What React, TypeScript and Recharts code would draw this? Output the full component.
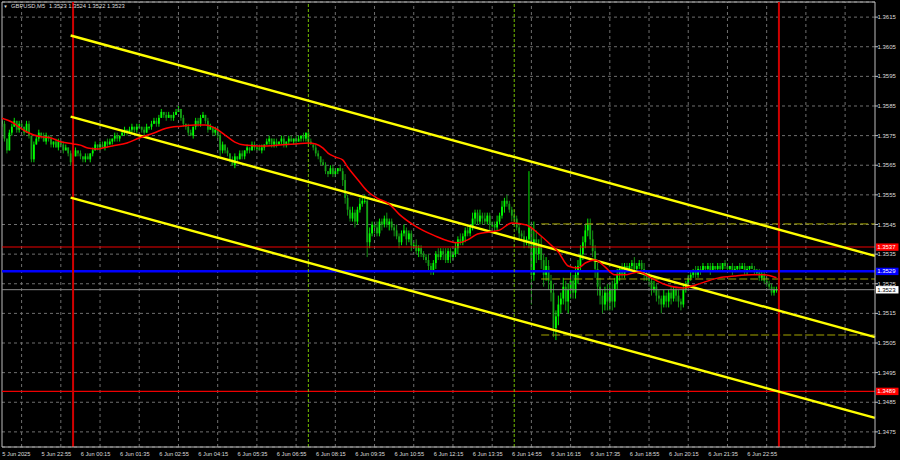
import React from 'react';
import { ComposedChart, Bar, Line, XAxis, YAxis, CartesianGrid, ReferenceLine } from 'recharts';

// ---------- data (prices in pips above 1.3500) ----------
const BASE = 1.35;
const PIP = 0.0001;
const FIRST_OPEN = 80;

const closes = [
  79,74,70,76,78,80,77,79,78,76,79,75,67,72,74,76,75,73,75,74,
  72,73,71,73,72,70,71,69,66,68,70,69,68,67,68,67,69,70,72,71,
  72,71,73,72,73,74,75,74,75,76,77,76,77,78,77,78,78,77,76,78,
  78,79,80,79,81,83,82,81,82,81,82,83,84,81,79,78,76,75,78,80,
  79,81,82,80,77,78,76,77,75,70,72,70,69,67,65,68,67,69,68,70,
  71,70,72,71,71,70,71,72,73,74,72,73,72,73,74,72,73,74,73,74,
  73,74,75,74,76,73,72,71,69,68,66,65,63,62,64,62,63,64,63,60,
  54,50,47,49,46,50,52,53,53,39,42,45,44,42,46,45,47,45,46,44,
  43,41,39,42,43,40,42,38,38,36,37,35,34,33,31,29,32,35,34,36,
  35,33,36,34,35,37,40,39,41,43,42,44,47,49,46,48,47,46,48,45,
  45,44,46,48,51,53,52,50,48,47,44,42,41,39,40,44,28,40,35,38,
  33,28,31,26,22,10,14,18,20,24,19,23,26,22,28,31,35,39,43,45,
  40,36,30,24,21,18,22,19,23,19,25,28,30,28,31,30,31,32,30,31,
  32,30,28,27,26,23,24,21,20,18,21,19,22,20,23,21,19,18,23,25,
  27,28,29,28,30,29,31,30,31,29,31,30,31,30,32,31,30,31,29,30,
  31,30,31,29,30,31,30,29,29,27,28,26,25,24,22,23,23,
];

const upperWicks = [
  1,1,0,1,1,1,0,1,1,0,1,1,0,1,1,1,0,1,1,0,
  1,0,1,1,0,1,1,0,1,1,1,0,1,0,1,1,0,1,1,0,
  1,1,0,1,1,0,1,1,0,1,1,0,1,1,0,1,1,0,1,1,
  0,1,1,1,1,1,0,1,1,0,1,1,1,0,1,0,1,1,0,1,
  1,1,1,0,1,1,0,1,1,1,1,0,1,0,1,1,0,1,1,0,
  1,0,1,1,0,1,1,0,1,1,0,1,1,0,1,1,0,1,1,0,
  1,1,0,1,0,1,1,0,1,1,0,1,1,0,1,1,1,0,1,1,
  2,1,1,2,1,1,2,1,2,1,2,1,1,2,1,1,1,2,1,1,
  1,2,1,1,2,1,1,1,1,2,1,1,1,1,2,1,1,1,2,1,
  1,2,1,1,1,2,1,2,1,1,2,1,2,1,1,2,1,2,1,1,
  1,1,2,1,2,1,2,1,1,2,1,1,1,2,1,19,2,6,3,2,
  3,2,3,2,2,3,2,3,2,3,2,2,3,2,3,2,3,2,2,2,
  2,3,2,2,3,2,2,3,2,3,2,2,1,2,1,1,1,1,2,1,
  1,1,2,1,2,1,2,1,2,1,2,1,1,2,1,1,2,1,2,1,
  1,1,1,2,1,1,1,0,1,1,1,0,1,1,0,1,1,0,1,1,
  0,1,1,1,1,0,1,1,1,1,1,1,1,1,1,1,1,
];

const lowerWicks = [
  1,1,1,0,1,0,1,1,1,1,0,1,1,1,0,1,1,0,1,1,
  1,1,0,1,1,1,0,1,1,1,0,1,1,1,1,0,1,1,0,1,
  1,0,1,1,0,1,1,1,1,0,1,1,0,1,1,1,0,1,1,0,
  1,1,0,1,1,0,1,1,0,1,1,0,0,1,1,1,1,0,1,1,
  1,1,0,1,1,0,1,1,1,2,1,1,1,1,0,1,1,0,1,1,
  1,1,0,1,1,0,1,1,0,1,1,1,1,0,1,1,1,1,0,1,
  1,0,1,1,1,1,0,1,1,1,1,0,1,1,0,1,1,1,0,2,
  2,2,1,1,2,1,1,1,1,5,2,1,2,1,1,2,1,1,2,1,
  2,1,2,1,1,2,1,2,1,1,2,1,1,1,2,1,1,2,1,1,
  2,1,1,2,1,1,2,1,1,2,1,1,1,2,1,1,2,1,1,2,
  1,2,1,1,1,2,1,1,2,1,1,2,1,2,1,3,10,2,3,2,
  3,4,2,3,3,3,4,3,3,2,3,4,3,2,2,3,2,2,2,2,
  2,2,3,3,3,3,2,3,3,3,2,2,2,1,1,1,1,1,1,1,
  1,1,2,1,2,2,1,2,2,3,1,2,2,2,1,2,2,2,1,1,
  1,1,1,1,1,1,0,1,1,1,0,1,1,1,1,1,1,1,1,0,
  1,1,0,1,1,1,0,1,1,1,1,1,1,1,1,1,1,
];

// red moving average at these bars
const maBars = [0,4,7,10,13,16,20,24,29,32,35,39,41,45,51,56,62,67,73,79,83,87,91,95,99,106,113,120,125,128,131,133,136,139,141,145,149,153,158,162,168,176,186,190,194,199,203,208,214,219,224,227,231,235,238,242,246,250,254,260,265,270,278,283,292,299,306,311,316];
const maValues = [80.9,79.6,77.9,76.3,75.2,74.6,74.2,72.9,72.2,71.8,70.8,70.5,70.8,71.5,72.5,74.2,75.9,77.5,78.2,78.6,78.6,77.5,75.2,72.8,71.8,71.5,71.8,72.2,72.5,72.2,70.8,69.1,67.8,66.8,64.4,60.3,56.3,53.9,51.9,48.5,44.8,41.4,38.8,39.8,41.8,42.5,43.1,45.5,44.8,41.8,38.1,35.7,31.0,30.3,32.0,33.0,30.7,28.0,28.0,29.0,26.9,24.9,23.6,24.6,26.9,27.6,28.0,28.0,27.0];

// time axis (M5 bars, bar 0 = 5 Jun 21:35)
const timeTickBars = [0,16,32,48,64,80,96,112,128,144,160,176,192,208,224,240,256,272,288,304];
const timeTickLabels = ['5 Jun 2025','5 Jun 22:55','6 Jun 00:15','6 Jun 01:35','6 Jun 02:55','6 Jun 04:15','6 Jun 05:35','6 Jun 06:55','6 Jun 08:15','6 Jun 09:35','6 Jun 10:55','6 Jun 12:15','6 Jun 13:35','6 Jun 14:55','6 Jun 16:15','6 Jun 17:35','6 Jun 18:55','6 Jun 20:15','6 Jun 21:35','6 Jun 22:55'];
const gridBars = [8,24,40,56,72,88,104,120,136,152,168,184,200,216,232,248,264,280,296,312,328,344];
const priceTicks = [1.3475,1.3485,1.3495,1.3505,1.3515,1.3525,1.3535,1.3545,1.3555,1.3565,1.3575,1.3585,1.3595,1.3605,1.3615];

const X_MAX = 356.2;
const Y_MIN = 1.34699;
const Y_MAX = 1.36201;

// regression channel (pips), from bar 28 to right edge
const channelFromBar = 28;
const channelStart = [108.8, 81.4, 54.1];
const channelEnd = [34.4, 7.0, -20.3];

// dashed levels (pips), from bar 220
const dashedFromBar = 220;
const dashedLevels = [45.2, 26.6, 7.7];

const redLevels = [1.35374, 1.34887];
const blueLevel = 1.35292;
const bidLevel = 1.3523;
const redVerticalBars = [29, 317];
const greenVerticalBars = [125, 209];

// ---------- styling ----------
const FONT = "'Liberation Sans', Arial, sans-serif";
const TEXT = '#dcdcdc';
const FRAME = '#bdbdbd';
const GRID = '#6f6f6f';
const UP = '#00ff00';
const DOWN = '#15a015';

const px = (p: number) => +(BASE + p * PIP).toFixed(5);

const rows = closes.map((c, i) => {
  const o = i === 0 ? FIRST_OPEN : closes[i - 1];
  const h = Math.max(o, c) + (upperWicks[i] ?? 0);
  const l = Math.min(o, c) - (lowerWicks[i] ?? 0);
  return { i, o: px(o), h: px(h), l: px(l), c: px(c), range: [px(l), px(h)], ma: null as number | null };
});
maBars.forEach((b, k) => {
  if (rows[b]) rows[b].ma = px(maValues[k]);
});
const last = rows[rows.length - 1];

const CandleShape = (props: any) => {
  const { x, y, width, height, payload } = props;
  if (x == null || y == null || payload == null) return null;
  const { o, h, l, c } = payload;
  const top = Math.min(y, y + (height || 0));
  const hh = Math.abs(height || 0);
  const span = h - l;
  const toY = (v: number) => (span <= 0 ? top : top + ((h - v) / span) * hh);
  const yo = toY(o);
  const yc = toY(c);
  const bTop = Math.min(yo, yc);
  const bH = Math.max(Math.abs(yc - yo), 1);
  const cx = x + (width || 0) / 2;
  const col = c >= o ? UP : DOWN;
  return (
    <g>
      <line x1={cx} x2={cx} y1={top} y2={top + Math.max(hh, 1)} stroke={col} strokeWidth={0.9} />
      <rect x={cx - 0.9} y={bTop} width={1.8} height={bH} fill={col} />
    </g>
  );
};

const TimeTick = (props: any) => {
  const { x, y, payload } = props;
  const idx = timeTickBars.indexOf(payload.value);
  if (idx < 0) return null;
  return (
    <text x={x + 0.3} y={y + 8.7} fontSize={5.7} fill={TEXT} fontFamily={FONT} textAnchor="start">
      {timeTickLabels[idx]}
    </text>
  );
};

const PriceTick = (props: any) => {
  const { x, y, payload } = props;
  return (
    <text x={x - 0.5} y={y} dy={2.1} fontSize={6} fill={TEXT} fontFamily={FONT} textAnchor="start">
      {Number(payload.value).toFixed(4)}
    </text>
  );
};

const PriceTag = (props: any) => {
  const { viewBox, bg, fg, value } = props;
  if (!viewBox) return null;
  const x = viewBox.x + viewBox.width + 1;
  const y = viewBox.y;
  return (
    <g>
      <rect x={x} y={y - 3.6} width={22.5} height={7.4} fill={bg} />
      <text x={x + 1.2} y={y} dy={2.1} fontSize={6} fill={fg} fontFamily={FONT}>
        {Number(value).toFixed(4)}
      </text>
    </g>
  );
};

export default function App() {
  return (
    <div style={{ position: 'relative', width: 900, height: 460, background: '#000', overflow: 'hidden' }}>
      <style>{'html,body{margin:0;padding:0;background:#000;}'}</style>
      <ComposedChart
        width={900}
        height={460}
        data={rows}
        margin={{ top: 2, right: 0, left: 2, bottom: 0 }}
        barCategoryGap="10%"
      >
        <CartesianGrid vertical={false} stroke={GRID} strokeDasharray="3 3" />
        <XAxis
          type="number"
          dataKey="i"
          domain={[0, X_MAX]}
          ticks={timeTickBars}
          interval={0}
          allowDataOverflow
          tick={<TimeTick />}
          tickLine={false}
          tickSize={0}
          tickMargin={0}
          axisLine={{ stroke: FRAME }}
          height={13}
        />
        <YAxis
          type="number"
          orientation="right"
          domain={[Y_MIN, Y_MAX]}
          ticks={priceTicks}
          interval={0}
          allowDataOverflow
          tick={<PriceTick />}
          tickSize={3}
          tickMargin={0}
          tickLine={{ stroke: FRAME }}
          axisLine={{ stroke: FRAME }}
          width={25}
        />
        {gridBars.map((b) => (
          <ReferenceLine key={'g' + b} x={b} stroke={GRID} strokeDasharray="3 3" ifOverflow="visible" />
        ))}
        <ReferenceLine x={0} stroke={FRAME} ifOverflow="visible" />
        <ReferenceLine y={Y_MAX} stroke={FRAME} ifOverflow="visible" />

        <Bar dataKey="range" shape={<CandleShape />} isAnimationActive={false} />

        <ReferenceLine
          y={bidLevel}
          stroke="#8a8a8a"
          strokeWidth={1}
          ifOverflow="visible"
          label={<PriceTag bg="#ffffff" fg="#000000" value={bidLevel} />}
        />
        {dashedLevels.map((p, k) => (
          <ReferenceLine
            key={'d' + k}
            segment={[{ x: dashedFromBar, y: px(p) }, { x: X_MAX, y: px(p) }]}
            stroke="#a4a400"
            strokeWidth={1}
            strokeDasharray="8 3"
            ifOverflow="visible"
          />
        ))}
        {redLevels.map((v) => (
          <ReferenceLine
            key={'r' + v}
            y={v}
            stroke="#ee0000"
            strokeWidth={1.2}
            ifOverflow="visible"
            label={<PriceTag bg="#ff0000" fg="#ffffff" value={v} />}
          />
        ))}
        <ReferenceLine
          y={blueLevel}
          stroke="#0000ff"
          strokeWidth={2.6}
          ifOverflow="visible"
          label={<PriceTag bg="#0000ff" fg="#ffffff" value={blueLevel} />}
        />
        {greenVerticalBars.map((b) => (
          <ReferenceLine key={'gv' + b} x={b} stroke="#74c000" strokeWidth={1} strokeDasharray="3 2" ifOverflow="visible" />
        ))}
        {redVerticalBars.map((b) => (
          <ReferenceLine key={'rv' + b} x={b} stroke="#d00000" strokeWidth={2} ifOverflow="visible" />
        ))}
        {channelStart.map((s, k) => (
          <ReferenceLine
            key={'c' + k}
            segment={[{ x: channelFromBar, y: px(s) }, { x: X_MAX, y: px(channelEnd[k]) }]}
            stroke="#ffff00"
            strokeWidth={2.4}
            ifOverflow="visible"
          />
        ))}
        <Line
          dataKey="ma"
          type="monotone"
          stroke="#ff0000"
          strokeWidth={1.5}
          dot={false}
          activeDot={false}
          connectNulls
          isAnimationActive={false}
        />
      </ComposedChart>
      <svg width={200} height={12} style={{ position: 'absolute', left: 0, top: 0 }}>
        <text x={3.2} y={7.6} fontSize={4.6} fill={TEXT} fontFamily={FONT}>▼</text>
        <text x={11} y={7.8} fontSize={5.8} fill={TEXT} fontFamily={FONT}>GBPUSD,M5</text>
        <text x={49} y={7.8} fontSize={5.8} fill={TEXT} fontFamily={FONT}>
          {[last.o, last.h, last.l, last.c].map((v) => v.toFixed(4)).join(' ')}
        </text>
      </svg>
    </div>
  );
}
